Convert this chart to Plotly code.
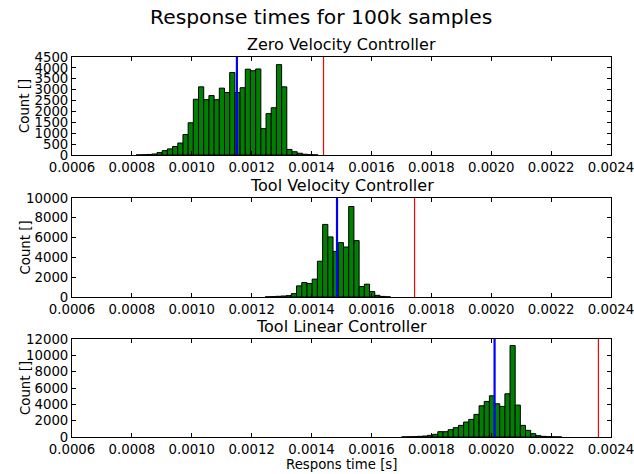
import plotly.graph_objects as go

# ---------------- DATA ----------------
suptitle = "Response times for 100k samples"
titles = ["Zero Velocity Controller", "Tool Velocity Controller", "Tool Linear Controller"]
x_label = "Respons time [s]"
y_label = "Count []"

x_ticks = [0.0006, 0.0008, 0.0010, 0.0012, 0.0014, 0.0016, 0.0018, 0.0020, 0.0022, 0.0024]
x_tick_labels = ["0.0006", "0.0008", "0.0010", "0.0012", "0.0014", "0.0016",
                 "0.0018", "0.0020", "0.0022", "0.0024"]

# Zero Velocity Controller
zero_bin_start = 0.0008145
zero_bin_width = 1.734e-5
zero_counts = [5, 12, 25, 47, 110, 200, 280, 390, 550, 940, 1480,
               2560, 3130, 2540, 2730, 2540, 3070, 2870, 3790, 2870, 3090,
               3940, 3870, 3950, 1210, 1900, 2170, 4150, 3130, 255, 150,
               80, 35, 15, 5]
zero_mean = 0.0011507
zero_limit = 0.00144
zero_y_ticks = [0, 500, 1000, 1500, 2000, 2500, 3000, 3500, 4000, 4500]

# Tool Velocity Controller
vel_bin_start = 0.0012453
vel_bin_width = 1.742e-5
vel_counts = [20, 40, 70, 100, 140, 340, 1125, 1466, 1364, 1807, 3615, 7332,
              6070, 4604, 5490, 5047, 9139, 5695, 1057, 1296, 546, 170, 60, 20]
vel_mean = 0.001485
vel_limit = 0.001744
vel_y_ticks = [0, 2000, 4000, 6000, 8000, 10000]

# Tool Linear Controller
lin_bin_start = 0.0017010
lin_bin_width = 1.723e-5
lin_counts = [15, 30, 50, 81, 122, 204, 326, 651, 651, 895, 1140, 1425, 1832,
              2157, 2768, 3826, 4355, 5047, 4070, 3744, 5291, 11193, 3907,
              1425, 814, 407, 163, 81, 40, 20, 10]
lin_mean = 0.0020112
lin_limit = 0.002358
lin_y_ticks = [0, 2000, 4000, 6000, 8000, 10000, 12000]

# ---------------- FIGURE ----------------
W, H = 634, 474
FONT = "DejaVu Sans"
x_left, x_right = 72, 611
rows_px = [(57, 155), (198, 297), (339, 437)]

panels = [
    (zero_bin_start, zero_bin_width, zero_counts, zero_mean, zero_limit, zero_y_ticks),
    (vel_bin_start, vel_bin_width, vel_counts, vel_mean, vel_limit, vel_y_ticks),
    (lin_bin_start, lin_bin_width, lin_counts, lin_mean, lin_limit, lin_y_ticks),
]

fig = go.Figure()
layout = dict(
    width=W, height=H,
    margin=dict(l=0, r=0, t=0, b=0, autoexpand=False),
    paper_bgcolor="white", plot_bgcolor="white",
    showlegend=False,
    font=dict(family=FONT, size=13.3, color="black"),
    shapes=[], annotations=[],
)

xdom = [x_left / W, x_right / W]
eps = 1e-9
for i, (start, width, counts, mean, limit, yticks) in enumerate(panels):
    n = i + 1
    xa = "x" if n == 1 else f"x{n}"
    ya = "y" if n == 1 else f"y{n}"
    centers = [start + (k + 0.5) * width for k in range(len(counts))]
    fig.add_trace(go.Bar(
        x=centers, y=counts, width=[width] * len(counts),
        marker=dict(color="#008000", line=dict(color="black", width=1)),
        xaxis=xa, yaxis=ya, hoverinfo="skip",
    ))
    top, bot = rows_px[i]
    ydom = [1 - bot / H, 1 - top / H]
    axkey_x = "xaxis" if n == 1 else f"xaxis{n}"
    axkey_y = "yaxis" if n == 1 else f"yaxis{n}"
    layout[axkey_x] = dict(
        domain=xdom, anchor=ya, range=[x_ticks[0] - eps, x_ticks[-1] + eps],
        tickvals=x_ticks, ticktext=x_tick_labels, automargin=False,
        ticklabeloverflow="allow",
        ticks="inside", ticklen=4, tickcolor="black", tickwidth=1,
        showline=True, linecolor="black", linewidth=1, mirror="allticks",
        showgrid=False, zeroline=False,
        tickfont=dict(family=FONT, size=13.3, color="black"),
    )
    layout[axkey_y] = dict(
        domain=ydom, anchor=xa, range=[yticks[0], yticks[-1]],
        tickvals=yticks, ticktext=[str(v) for v in yticks], automargin=False,
        ticklabeloverflow="allow",
        ticks="inside", ticklen=4, tickcolor="black", tickwidth=1,
        showline=True, linecolor="black", linewidth=1, mirror="allticks",
        showgrid=False, zeroline=False,
        tickfont=dict(family=FONT, size=13.3, color="black"),
    )
    # mean (blue) and limit (red) lines
    layout["shapes"].append(dict(type="line", xref=xa, yref=f"{ya} domain",
                                 x0=mean, x1=mean, y0=0, y1=1,
                                 line=dict(color="#0000ff", width=2.2)))
    layout["shapes"].append(dict(type="line", xref=xa, yref=f"{ya} domain",
                                 x0=limit, x1=limit, y0=0, y1=1,
                                 line=dict(color="#ff0000", width=1.2)))
    # subplot title
    layout["annotations"].append(dict(
        text=titles[i], xref="paper", yref="paper",
        x=(x_left + x_right) / 2 / W, y=1 - (top - 1) / H,
        xanchor="center", yanchor="bottom", showarrow=False,
        font=dict(family=FONT, size=16, color="black"),
    ))
    # y label
    layout["annotations"].append(dict(
        text=y_label, xref="paper", yref="paper",
        x=25 / W, y=1 - (top + bot) / 2 / H, textangle=-90,
        xanchor="center", yanchor="middle", showarrow=False,
        font=dict(family=FONT, size=13.3, color="black"),
    ))

layout["annotations"].append(dict(
    text=suptitle, xref="paper", yref="paper",
    x=321 / W, y=1 - 17 / H, xanchor="center", yanchor="middle", showarrow=False,
    font=dict(family=FONT, size=20.3, color="black"),
))
layout["annotations"].append(dict(
    text=x_label, xref="paper", yref="paper",
    x=(x_left + x_right) / 2 / W, y=1 - 464 / H, xanchor="center", yanchor="middle",
    showarrow=False, font=dict(family=FONT, size=13.3, color="black"),
))

fig.update_layout(**layout)
fig.write_html("out.html", config={"displayModeBar": False},
               post_script="document.body.style.margin='0px';")
